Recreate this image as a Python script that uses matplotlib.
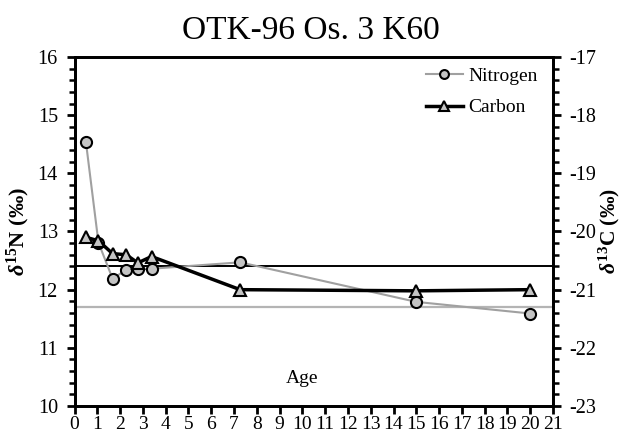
import matplotlib.pyplot as plt
from matplotlib.ticker import MultipleLocator

plt.rcParams['font.family'] = ['Liberation Serif', 'DejaVu Serif']
plt.rcParams['axes.unicode_minus'] = False
plt.rcParams['mathtext.fontset'] = 'custom'
plt.rcParams['mathtext.rm'] = 'Liberation Serif:bold'
plt.rcParams['mathtext.it'] = 'Liberation Serif:italic:bold'
plt.rcParams['mathtext.bf'] = 'Liberation Serif:bold'

# ages of the samples
age = [0.5, 1.05, 1.67, 2.27, 2.78, 3.38, 7.27, 15.0, 20.0]
# d15N (left axis) and d13C (right axis)
nitrogen = [14.54, 12.81, 12.19, 12.34, 12.35, 12.36, 12.47, 11.79, 11.59]
carbon = [-20.10, -20.16, -20.38, -20.40, -20.54, -20.43, -21.0, -21.02, -21.0]
# reference levels (left axis units)
ref_black = 12.41
ref_gray = 11.71

fig = plt.figure(figsize=(6.21, 4.34), dpi=100)
ax = fig.add_axes([0.12, 0.0645, 0.7705, 0.8042])
ax2 = ax.twinx()

ax.axhline(ref_black, color='black', lw=1.4, zorder=1)
ax.axhline(ref_gray, color='#b4b4b4', lw=1.6, zorder=1)

ln1, = ax.plot(age, nitrogen, color='#a0a0a0', lw=1.5, marker='o', ms=8,
               mfc='#c4c4c4', mec='black', mew=1.5, zorder=3, label='Nitrogen')
ln2, = ax2.plot(age, carbon, color='black', lw=2.5, marker='^', ms=8.5,
                mfc='#c4c4c4', mec='black', mew=1.5, zorder=3, label='Carbon')

ax.set_xlim(0, 21)
ax.set_ylim(10, 16)
ax2.set_ylim(-23, -17)
ax.xaxis.set_major_locator(MultipleLocator(1))
ax.yaxis.set_major_locator(MultipleLocator(1))
ax.yaxis.set_minor_locator(MultipleLocator(0.2))
ax2.yaxis.set_major_locator(MultipleLocator(1))
ax2.yaxis.set_minor_locator(MultipleLocator(0.2))

for a in (ax, ax2):
    for s in a.spines.values():
        s.set_linewidth(2)
    a.tick_params(which='major', length=6, width=2, labelsize=14.5,
                  direction='out', pad=6)
    a.tick_params(which='minor', length=4, width=1.8, direction='out')
ax.tick_params(axis='x', labelsize=14, pad=1.5)

ax.set_ylabel(r'$\delta^{15}$N (‰)', fontsize=16, fontweight='bold', labelpad=4)
ax2.set_ylabel(r'$\delta^{13}$C (‰)', fontsize=15.5, fontweight='bold', rotation=90,
               labelpad=0)
ax.text(0.475, 0.08, 'Age', transform=ax.transAxes, ha='center', va='center',
        fontsize=14)
fig.suptitle('OTK-96 Os. 3 K60', fontsize=24, y=0.965)

ax.legend(handles=[ln1, ln2], loc='upper right', frameon=False, fontsize=14,
          handlelength=1.9, handletextpad=0.3, labelspacing=0.7,
          markerscale=0.8, bbox_to_anchor=(1.005, 1.02))

fig.savefig('out.png', dpi=100)
